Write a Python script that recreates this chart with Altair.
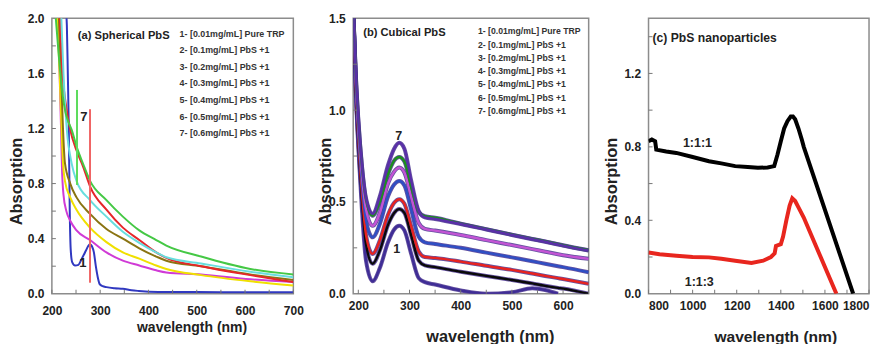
import altair as alt
import pandas as pd

BOLD = "Liberation Sans, Arial, sans-serif"
TXT = "#222222"
TICK = "#777777"

# ---------------- panel (a) Spherical PbS ----------------
a_blue_wl = [228, 231, 233, 235, 237, 239, 242, 248, 255, 262, 270, 275, 279, 283, 287, 291, 295, 299, 305, 313, 330, 347, 365, 380, 420, 500, 600, 700]
a_blue_A = [2.1, 1.95, 1.6, 1.2, 0.6, 0.32, 0.23, 0.205, 0.21, 0.255, 0.31, 0.345, 0.36, 0.345, 0.3, 0.2, 0.12, 0.07, 0.055, 0.048, 0.04, 0.036, 0.025, 0.02, 0.013, 0.012, 0.011, 0.01]
a_magenta_wl = [212, 216, 219, 221, 224, 230, 238, 251, 279, 313, 347, 381, 416, 437, 509, 611, 700]
a_magenta_A = [2.05, 1.6, 1.2, 0.9, 0.72, 0.6, 0.53, 0.46, 0.39, 0.30, 0.24, 0.205, 0.17, 0.155, 0.14, 0.105, 0.085]
a_yellow_wl = [211, 216, 220, 223, 227, 238, 251, 279, 313, 347, 381, 416, 437, 509, 611, 700]
a_yellow_A = [2.05, 1.6, 1.2, 0.95, 0.82, 0.70, 0.61, 0.48, 0.375, 0.30, 0.255, 0.205, 0.18, 0.135, 0.09, 0.06]
a_olive_wl = [214, 219, 223, 227, 238, 251, 279, 313, 347, 381, 416, 437, 509, 611, 700]
a_olive_A = [2.05, 1.6, 1.2, 0.95, 0.80, 0.70, 0.58, 0.47, 0.40, 0.33, 0.27, 0.24, 0.2, 0.14, 0.1]
a_red_wl = [216, 222, 230, 238, 251, 265, 279, 313, 347, 381, 416, 437, 509, 611, 700]
a_red_A = [2.05, 1.6, 1.35, 1.19, 1.04, 0.92, 0.78, 0.61, 0.48, 0.39, 0.30, 0.26, 0.2, 0.135, 0.085]
a_cyan_wl = [219, 224, 231, 241, 251, 279, 313, 347, 381, 416, 437, 509, 611, 700]
a_cyan_A = [2.05, 1.6, 1.19, 0.945, 0.82, 0.68, 0.56, 0.45, 0.37, 0.30, 0.265, 0.22, 0.16, 0.12]
a_green_wl = [207, 215, 222, 228, 234, 241, 251, 265, 279, 313, 347, 381, 416, 437, 509, 611, 700]
a_green_A = [2.05, 1.7, 1.45, 1.32, 1.25, 1.19, 1.07, 0.94, 0.82, 0.68, 0.56, 0.46, 0.39, 0.35, 0.27, 0.18, 0.14]

a_series = ["blue", "magenta", "yellow", "olive", "red", "cyan", "green"]
a_colors = ["#3038c0", "#d03ad6", "#f0e000", "#8a7413", "#e6262a", "#68dede", "#45c845"]
a_data = [a_blue_wl, a_magenta_wl, a_yellow_wl, a_olive_wl, a_red_wl, a_cyan_wl, a_green_wl]
a_vals = [a_blue_A, a_magenta_A, a_yellow_A, a_olive_A, a_red_A, a_cyan_A, a_green_A]

# vertical artefact segments in panel (a)
a_rule_wl = [252, 279]
a_rule_lo = [0.79, 0.08]
a_rule_hi = [1.48, 1.34]
a_rule_col = ["#5ddc5d", "#f06464"]

a_lbl_wl = [266, 264]
a_lbl_A = [1.28, 0.22]
a_lbl_t = ["7", "1"]

a_xticks = [200, 300, 400, 500, 600, 700]
a_xminor = [200, 250, 300, 350, 400, 450, 500, 550, 600, 650, 700]
a_yticks = [0, 0.4, 0.8, 1.2, 1.6, 2.0]
a_yminor = [0.2, 0.4, 0.6, 0.8, 1.0, 1.2, 1.4, 1.6, 1.8]

legend_lines = ["1- [0.01mg/mL] Pure TRP", "2- [0.1mg/mL] PbS +1", "3- [0.2mg/mL] PbS +1",
                "4- [0.3mg/mL] PbS +1", "5- [0.4mg/mL] PbS +1", "6- [0.5mg/mL] PbS +1",
                "7- [0.6mg/mL] PbS +1"]

# ---------------- panel (b) Cubical PbS ----------------
b_wl = [190, 195, 200, 207, 215, 228, 242, 258, 270, 280, 290, 303, 318, 330, 350, 400, 450, 500, 540, 565, 590, 600, 650]
b_c1 = [1.55, 1.1, 0.8, 0.46, 0.18, 0.068, 0.14, 0.28, 0.35, 0.37, 0.345, 0.22, 0.085, 0.063, 0.05, 0.018, 0.0, 0.008, 0.03, 0.02, 0.0, None, None]
b_c2 = [1.55, 1.12, 0.83, 0.52, 0.27, 0.163, 0.235, 0.375, 0.44, 0.461, 0.44, 0.32, 0.18, 0.154, 0.145, 0.12, 0.097, 0.075, 0.056, 0.043, 0.032, 0.028, 0.0]
b_c3 = [1.55, 1.13, 0.85, 0.55, 0.32, 0.217, 0.29, 0.43, 0.495, 0.515, 0.49, 0.37, 0.23, 0.2, 0.195, 0.175, 0.152, 0.13, 0.11, 0.097, 0.085, 0.08, 0.054]
b_c4 = [1.55, 1.15, 0.88, 0.6, 0.4, 0.307, 0.38, 0.53, 0.595, 0.614, 0.59, 0.46, 0.31, 0.28, 0.271, 0.25, 0.224, 0.198, 0.177, 0.163, 0.15, 0.145, 0.117]
b_c5 = [1.55, 1.17, 0.91, 0.65, 0.46, 0.37, 0.44, 0.6, 0.665, 0.687, 0.66, 0.53, 0.385, 0.353, 0.344, 0.32, 0.292, 0.265, 0.243, 0.229, 0.215, 0.21, 0.19]
b_c6 = [1.55, 1.19, 0.94, 0.69, 0.51, 0.425, 0.5, 0.65, 0.725, 0.745, 0.72, 0.585, 0.445, 0.422, 0.414, 0.382, 0.352, 0.322, 0.299, 0.285, 0.27, 0.264, 0.237]
b_c7 = [1.55, 1.2, 0.95, 0.7, 0.52, 0.435, 0.53, 0.7, 0.79, 0.822, 0.79, 0.62, 0.45, 0.416, 0.407, 0.38, 0.35, 0.32, 0.297, 0.283, 0.268, 0.262, 0.235]
b_series = ["c1", "c2", "c3", "c4", "c5", "c6", "c7"]
b_colors = ["#3f2d96", "#0a0a0a", "#e8231f", "#2f4fc4", "#c354d4", "#1c8f1c", "#5a2fa8"]
b_vals = [b_c1, b_c2, b_c3, b_c4, b_c5, b_c6, b_c7]

b_lbl_wl = [279, 275]
b_lbl_A = [0.86, 0.245]
b_lbl_t = ["7", "1"]

b_xticks = [200, 300, 400, 500, 600]
b_xminor = [200, 250, 300, 350, 400, 450, 500, 550, 600, 650]
b_yticks = [0, 0.5, 1.0, 1.5]
b_yminor = [0.25, 0.5, 0.75, 1.0, 1.25]

# ---------------- panel (c) PbS nanoparticles ----------------
c_black_wl = [800, 815, 830, 835, 880, 926, 1000, 1074, 1130, 1193, 1250, 1296, 1340, 1370, 1385, 1400, 1415, 1430, 1445, 1455, 1465, 1480, 1495, 1504, 1728]
c_black_A = [0.83, 0.84, 0.83, 0.785, 0.775, 0.767, 0.745, 0.722, 0.71, 0.695, 0.69, 0.686, 0.688, 0.695, 0.758, 0.83, 0.9, 0.94, 0.965, 0.965, 0.95, 0.9, 0.84, 0.8, 0.0]
c_red_wl = [800, 850, 926, 1000, 1074, 1130, 1193, 1267, 1320, 1355, 1372, 1378, 1400, 1410, 1425, 1440, 1452, 1465, 1480, 1504, 1652]
c_red_A = [0.225, 0.215, 0.207, 0.2, 0.198, 0.19, 0.18, 0.168, 0.18, 0.2, 0.22, 0.26, 0.27, 0.31, 0.4, 0.48, 0.52, 0.505, 0.47, 0.415, 0.0]
c_series = ["1:1:1", "1:1:3"]
c_colors = ["#000000", "#e8261e"]

c_lbl_wl = [1022, 1030]
c_lbl_A = [0.82, 0.063]
c_lbl_t = ["1:1:1", "1:1:3"]

c_xticks = [800, 1000, 1200, 1400, 1600, 1800]
c_xminor = [800, 900, 1000, 1100, 1200, 1300, 1400, 1500, 1600, 1700, 1800]
c_yticks = [0, 0.4, 0.8, 1.2]
c_yminor = [0.2, 0.4, 0.6, 0.8, 1.0, 1.2, 1.4]


def long_df(names, wls, vals):
    rows = []
    for n, wl, v in zip(names, wls, vals):
        for w, a in zip(wl, v):
            if a is not None:
                rows.append({"s": n, "wl": w, "A": a})
    return pd.DataFrame(rows)


df_a = long_df(a_series, a_data, a_vals)
df_b = long_df(b_series, [b_wl] * 7, b_vals)
df_c = long_df(c_series, [c_black_wl, c_red_wl], [c_black_A, c_red_A])


def xaxis(values, tx, ty, pad, tsize, flush=False):
    return alt.Axis(values=values, title="wavelength (nm)", format="d",
                    labelFont=BOLD, labelFontSize=12, labelFontWeight="bold", labelColor=TXT,
                    labelFlush=flush, labelOverlap=False, labelPadding=pad,
                    titleFont=BOLD, titleFontSize=tsize, titleFontWeight="bold", titleColor=TXT,
                    titleX=tx, titleY=ty, titleBaseline="middle", titleAlign="center",
                    domain=False, grid=False, ticks=False, tickSize=0)


def yaxis(values, tx, ty):
    return alt.Axis(values=values, title="Absorption", format=".1f",
                    labelFont=BOLD, labelFontSize=12, labelFontWeight="bold", labelColor=TXT,
                    labelFlush=False, labelOverlap=False, labelPadding=8,
                    titleFont=BOLD, titleFontSize=16.5, titleFontWeight="bold", titleColor=TXT,
                    titleX=tx, titleY=ty, titleAngle=270, titleBaseline="middle", titleAlign="center",
                    domain=False, grid=False, ticks=False, tickSize=0)


def inner_ticks(xminor, yminor, h):
    tx = alt.Chart(pd.DataFrame({"wl": xminor})).mark_rule(color=TICK, strokeWidth=1).encode(
        x="wl:Q", y=alt.value(h), y2=alt.value(h - 4))
    ty = alt.Chart(pd.DataFrame({"A": yminor})).mark_rule(color=TICK, strokeWidth=1).encode(
        y="A:Q", x=alt.value(0), x2=alt.value(4))
    return [tx, ty]


one = alt.Data(values=[{}])
H = 276

# ---- panel a
xa = alt.X("wl:Q", scale=alt.Scale(domain=[200, 700], nice=False),
           axis=xaxis(a_xticks, 140, 34, 12, 14))
ya = alt.Y("A:Q", scale=alt.Scale(domain=[0, 2], nice=False), axis=yaxis(a_yticks, -35, 163))
lines_a = alt.Chart(df_a).mark_line(strokeWidth=2, clip=True, interpolate="monotone").encode(
    x=xa, y=ya,
    color=alt.Color("s:N", scale=alt.Scale(domain=a_series, range=a_colors), legend=None))
rules_a = alt.Chart(pd.DataFrame({"wl": a_rule_wl, "lo": a_rule_lo, "hi": a_rule_hi, "c": a_rule_col})).mark_rule(
    strokeWidth=2).encode(x="wl:Q", y="lo:Q", y2="hi:Q", color=alt.Color("c:N", scale=None))
lbl_a = alt.Chart(pd.DataFrame({"wl": a_lbl_wl, "A": a_lbl_A, "t": a_lbl_t})).mark_text(
    font=BOLD, fontSize=13, fontWeight="bold", color=TXT).encode(x="wl:Q", y="A:Q", text="t:N")
title_a = alt.Chart(one).mark_text(text="(a) Spherical PbS", align="left", baseline="middle",
                                   font=BOLD, fontSize=11.2, fontWeight="bold", color=TXT).encode(
    x=alt.value(26), y=alt.value(18))
leg_a = alt.Chart(one).mark_text(text=legend_lines, align="left", baseline="top", lineHeight=16.6,
                                 font=BOLD, fontSize=8.9, fontWeight="bold", color="#333333").encode(
    x=alt.value(128), y=alt.value(11.5))
panel_a = alt.layer(lines_a, rules_a, *inner_ticks(a_xminor, a_yminor, H), lbl_a, title_a, leg_a).properties(
    width=242, height=H)

# ---- panel b
xb = alt.X("wl:Q", scale=alt.Scale(domain=[190, 650], nice=False),
           axis=xaxis(b_xticks, 137, 43, 7, 16.3))
yb = alt.Y("A:Q", scale=alt.Scale(domain=[0, 1.5], nice=False), axis=yaxis(b_yticks, -28, 163))
outline_b = alt.Chart(df_b).mark_line(strokeWidth=4, clip=True, interpolate="monotone",
                                      color="#4b3590", opacity=0.85).encode(x=xb, y=yb, detail="s:N")
lines_b = alt.Chart(df_b).mark_line(strokeWidth=2.4, clip=True, interpolate="monotone").encode(
    x=xb, y=yb,
    color=alt.Color("s:N", scale=alt.Scale(domain=b_series, range=b_colors), legend=None))
lbl_b = alt.Chart(pd.DataFrame({"wl": b_lbl_wl, "A": b_lbl_A, "t": b_lbl_t})).mark_text(
    font=BOLD, fontSize=12.5, fontWeight="bold", color=TXT).encode(x="wl:Q", y="A:Q", text="t:N")
title_b = alt.Chart(one).mark_text(text="(b) Cubical PbS", align="left", baseline="middle",
                                   font=BOLD, fontSize=11.2, fontWeight="bold", color=TXT).encode(
    x=alt.value(10), y=alt.value(15))
leg_b = alt.Chart(one).mark_text(text=legend_lines, align="left", baseline="top", lineHeight=13.3,
                                 font=BOLD, fontSize=8.7, fontWeight="bold", color="#333333").encode(
    x=alt.value(125), y=alt.value(9))
panel_b = alt.layer(outline_b, lines_b, *inner_ticks(b_xminor, b_yminor, H), lbl_b, title_b, leg_b).properties(
    width=236, height=H)

# ---- panel c
xc = alt.X("wl:Q", scale=alt.Scale(domain=[800, 1800], nice=False),
           axis=xaxis(c_xticks, 127, 43, 7, 15.6, flush=True))
yc = alt.Y("A:Q", scale=alt.Scale(domain=[0, 1.5], nice=False), axis=yaxis(c_yticks, -37, 163))
lines_c = alt.Chart(df_c).mark_line(strokeWidth=4, clip=True).encode(
    x=xc, y=yc,
    color=alt.Color("s:N", scale=alt.Scale(domain=c_series, range=c_colors), legend=None))
lbl_c = alt.Chart(pd.DataFrame({"wl": c_lbl_wl, "A": c_lbl_A, "t": c_lbl_t})).mark_text(
    font=BOLD, fontSize=12.5, fontWeight="bold", color=TXT).encode(x="wl:Q", y="A:Q", text="t:N")
title_c = alt.Chart(one).mark_text(text="(c) PbS nanoparticles", align="left", baseline="middle",
                                   font=BOLD, fontSize=12.2, fontWeight="bold", color=TXT).encode(
    x=alt.value(4), y=alt.value(20))
panel_c = alt.layer(lines_c, *inner_ticks(c_xminor, c_yminor, H), lbl_c, title_c).properties(
    width=221, height=H)

chart = alt.hconcat(panel_a, panel_b, panel_c, spacing=60, bounds="flush").resolve_scale(
    color="independent").properties(
    padding={"left": 8, "top": 11, "right": 9, "bottom": 0}, background="white"
).configure_view(stroke="#8c8c8c", strokeWidth=1.5)

chart.save("out.html", embed_options={"renderer": "svg", "actions": False})
